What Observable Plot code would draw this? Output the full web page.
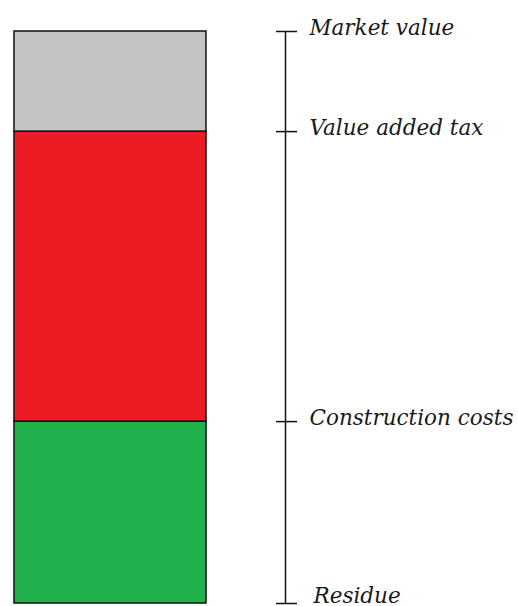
<!DOCTYPE html>
<html>
<head>
<meta charset="utf-8">
<script src="https://cdn.jsdelivr.net/npm/d3@7"></script>
<script src="https://cdn.jsdelivr.net/npm/@observablehq/plot@0.6"></script>
<style>
  html, body { margin: 0; padding: 0; background: #fff; }
  #chart svg { display: block; }
</style>
</head>
<body>
<div id="chart"></div>
<script>
// Segments of the single stacked column, from bottom to top
const segmentNames = ["Construction costs", "Value added tax", "Market value"];
const segmentValues = [31.8, 50.7, 17.5];
// Labels of the levels on the scale, from bottom to top
const tickLabels = ["Residue", "Construction costs", "Value added tax", "Market value"];

const segmentColors = ["#22b14c", "#ed1c24", "#c3c3c3"];
const column = "Market value";

const segments = segmentNames.map((name, i) => ({name, value: segmentValues[i]}));
const levels = Array.from(d3.cumsum([0, ...segmentValues]));
const levelData = levels.map((v, i) => ({value: v, label: tickLabels[i]}));

const font = "'DejaVu Serif', serif";
const labelStyle = {
  y: "value", text: "label", frameAnchor: "right", textAnchor: "start", lineAnchor: "bottom",
  fontSize: 21.5, fontStyle: "italic", fill: "#1a1a1a", fontFamily: font
};

const chart = Plot.plot({
  width: 518,
  height: 606,
  marginLeft: 0,
  marginRight: 233,
  marginTop: 31,
  marginBottom: 3,
  x: {type: "band", domain: [column], range: [14, 206], padding: 0, axis: null},
  y: {domain: [0, d3.sum(segmentValues)], axis: null},
  color: {domain: segmentNames, range: segmentColors},
  style: {fontFamily: font, background: "#fff", overflow: "visible"},
  marks: [
    Plot.barY(segments, Plot.stackY({x: () => column, y: "value", fill: "name", stroke: "#111", strokeWidth: 1.5, order: null})),
    Plot.ruleX([column], {x: d => d, dx: 175, stroke: "#111", strokeWidth: 1.5}),
    Plot.axisY(levels, {anchor: "right", label: null, tickSize: 21, dx: -10, tickFormat: () => "", stroke: "#111", strokeWidth: 1.5}),
    Plot.text(levelData.slice(1), {...labelStyle, dx: 24, dy: 3}),
    Plot.text(levelData.slice(0, 1), {...labelStyle, dx: 28, dy: -1})
  ]
});
document.getElementById("chart").append(chart);
</script>
</body>
</html>
